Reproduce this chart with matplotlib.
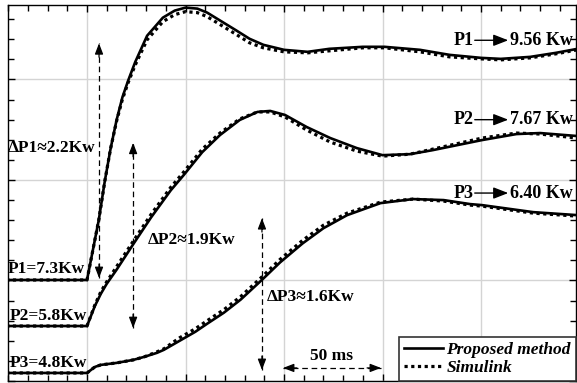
import matplotlib.pyplot as plt
from matplotlib.ticker import MultipleLocator

plt.rcParams['font.family'] = ['Liberation Serif', 'DejaVu Serif']
plt.rcParams['font.weight'] = 'bold'

# time after the load step (ms) and power (kW)
t1 = [-41, 0, 3, 6, 9, 12, 15, 18, 21, 24.5, 30.5, 38.5, 44.5, 50, 56, 61, 68.5, 76, 82.5, 89.5,
      100, 112, 123, 140, 151, 169, 184, 200, 210, 225, 238, 249]
p1 = [7.30, 7.30, 7.60, 7.90, 8.28, 8.61, 8.89, 9.12, 9.29, 9.47, 9.73, 9.91, 9.98, 10.01, 10.00, 9.96,
      9.87, 9.78, 9.70, 9.64, 9.59, 9.57, 9.60, 9.62, 9.62, 9.59, 9.54, 9.51, 9.50, 9.52, 9.56, 9.60]
p1_sim = [7.30, 7.30, 7.60, 7.90, 8.28, 8.61, 8.88, 9.10, 9.27, 9.44, 9.69, 9.87, 9.94, 9.97, 9.96, 9.92,
          9.83, 9.74, 9.66, 9.61, 9.57, 9.56, 9.58, 9.61, 9.61, 9.57, 9.52, 9.50, 9.49, 9.51, 9.55, 9.59]

t2 = [-41, 0, 4, 7, 10, 15, 24, 32.5, 42.5, 49, 58.5, 67.5, 77.5, 86.5, 93, 100.5, 111.5, 123.5, 137,
      150, 164, 175.5, 200.5, 218, 230, 249]
p2 = [5.80, 5.80, 6.00, 6.12, 6.22, 6.36, 6.63, 6.88, 7.15, 7.30, 7.53, 7.70, 7.85, 7.93, 7.94, 7.90,
      7.78, 7.67, 7.57, 7.50, 7.51, 7.55, 7.65, 7.71, 7.72, 7.69]
p2_sim = [5.80, 5.80, 6.01, 6.14, 6.24, 6.39, 6.66, 6.91, 7.18, 7.33, 7.56, 7.72, 7.86, 7.93, 7.93, 7.88,
          7.75, 7.63, 7.54, 7.49, 7.51, 7.56, 7.67, 7.72, 7.71, 7.67]

t3 = [-41, 0, 2, 4, 7, 15, 23.5, 29, 35.5, 39, 47, 55, 61, 69.5, 78, 89, 98, 109.5, 120, 132, 149,
      165.5, 181, 194.5, 200.5, 226.5, 249]
p3 = [4.80, 4.80, 4.83, 4.86, 4.88, 4.90, 4.93, 4.96, 5.00, 5.03, 5.12, 5.21, 5.29, 5.40, 5.53, 5.73,
      5.90, 6.09, 6.24, 6.37, 6.49, 6.53, 6.52, 6.48, 6.47, 6.40, 6.37]
p3_sim = [4.80, 4.80, 4.83, 4.86, 4.88, 4.90, 4.93, 4.96, 5.01, 5.04, 5.15, 5.24, 5.32, 5.43, 5.56, 5.76,
          5.93, 6.12, 6.27, 6.39, 6.50, 6.53, 6.51, 6.47, 6.46, 6.39, 6.36]

start_labels = ['P1=7.3Kw', 'P2=5.8Kw', 'P3=4.8Kw']
delta_labels = ['\u0394P1\u22482.2Kw', '\u0394P2\u22481.9Kw', '\u0394P3\u22481.6Kw']
final_names = ['P1', 'P2', 'P3']
final_values = ['9.56 Kw', '7.67 Kw', '6.40 Kw']
legend_labels = ['Proposed method', 'Simulink']

# vertical position of each channel on the screen (divisions)
offsets = [-6.295, -5.253, -4.720]

fig = plt.figure(figsize=(5.77, 3.83), dpi=100)
ax = fig.add_axes([8 / 577, 2 / 383, 568 / 577, 376 / 383])

handles = []
for t, p, ps, off in zip([t1, t2, t3], [p1, p2, p3], [p1_sim, p2_sim, p3_sim], offsets):
    h1, = ax.plot(t, [v + off for v in p], color='k', lw=1.9, solid_joinstyle='round', zorder=3)
    h2, = ax.plot(t, [v + off for v in ps], color='k', lw=2.3, ls=(0, (1, 1.1)), zorder=4)
    if not handles:
        handles = [h1, h2]

ax.set_xlim(-40.1, 248.2)
ax.set_ylim(0, 3.741)
ax.xaxis.set_major_locator(MultipleLocator(50))
ax.xaxis.set_minor_locator(MultipleLocator(10))
ax.yaxis.set_major_locator(MultipleLocator(1))
ax.yaxis.set_minor_locator(MultipleLocator(0.2))
ax.grid(True, which='major', color='#d4d4d4', lw=1)
ax.tick_params(which='both', direction='in', top=True, right=True, labelbottom=False,
               labelleft=False, color='k', width=1)
ax.tick_params(which='major', length=5)
ax.tick_params(which='minor', length=4)
for s in ax.spines.values():
    s.set_linewidth(1)


def darrow(x0, y0, x1, y1):
    ax.plot([x0, x1], [y0, y1], color='k', lw=0.9, dashes=(4.5, 3), zorder=2)
    vert = x0 == x1
    for (xa, ya), back in [((x0, y0), (0, 10) if vert else (10, 0)),
                           ((x1, y1), (0, -10) if vert else (-10, 0))]:
        ax.annotate('', xy=(xa, ya), xytext=back, textcoords='offset points',
                    arrowprops=dict(arrowstyle='-|>,head_length=0.65,head_width=0.25',
                                    color='k', lw=0.9, shrinkA=0, shrinkB=0))


darrow(6.1, 1.025, 6.1, 3.36)
darrow(23.4, 0.527, 23.4, 2.37)
darrow(88.8, 0.11, 88.8, 1.62)
darrow(99.5, 0.13, 149.2, 0.13)
ax.text(124, 0.245, '50 ms', fontsize=12.5, ha='center', va='center')

for lab, (x, y) in zip(start_labels, [(-40, 1.11), (-39, 0.65), (-39, 0.18)]):
    ax.text(x, y, lab, fontsize=12.5, ha='left', va='center')
for lab, (x, y) in zip(delta_labels, [(-40, 2.32), (31, 1.40), (91.4, 0.84)]):
    ax.text(x, y, lab, fontsize=12.5, ha='left', va='center')
for name, val, y in zip(final_names, final_values, [3.39, 2.60, 1.87]):
    ax.text(196.3, y, name, fontsize=13, ha='right', va='center')
    ax.annotate('', xy=(213.8, y), xytext=(196.8, y),
                arrowprops=dict(arrowstyle='-|>,head_length=0.9,head_width=0.35',
                                color='k', lw=1, shrinkA=0, shrinkB=0))
    ax.text(214.7, y, val, fontsize=13, ha='left', va='center')

leg = ax.legend(handles, legend_labels, loc='lower right', bbox_to_anchor=(1.0, 0.0),
                borderaxespad=0, fancybox=False, edgecolor='#333333', framealpha=1,
                prop=dict(family='Liberation Serif', weight='bold', style='italic', size=12.5),
                handlelength=2.25, handletextpad=0.2, labelspacing=0.1, borderpad=0.3)
leg.get_frame().set_linewidth(1.2)
leg.set_zorder(10)

fig.savefig('out.png', dpi=100)
